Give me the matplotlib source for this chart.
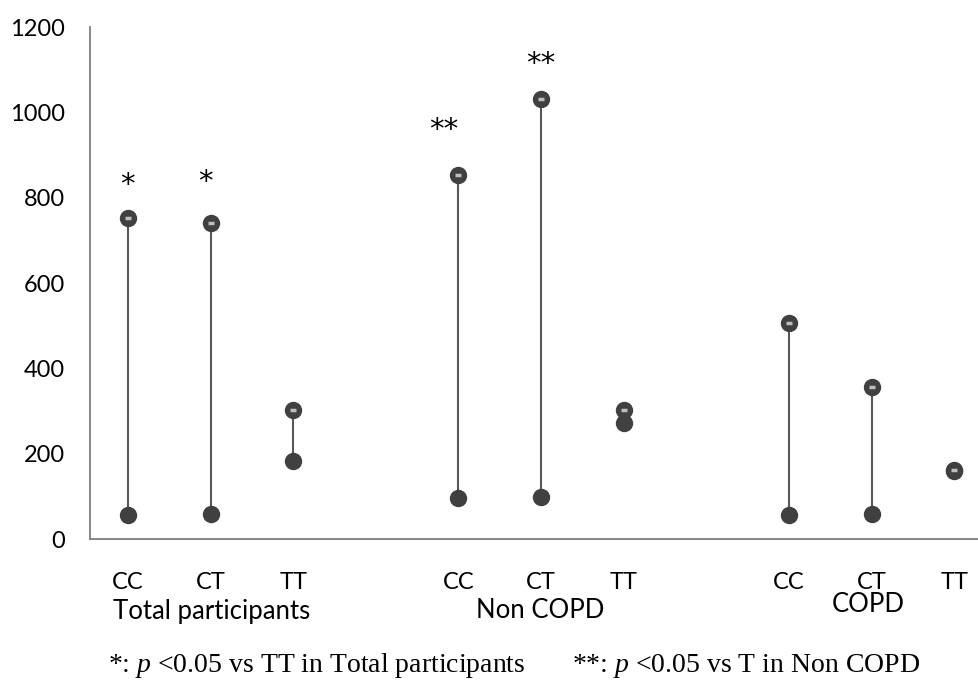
import matplotlib
matplotlib.use("Agg")
import matplotlib.pyplot as plt

plt.rcParams["mathtext.fontset"] = "custom"
plt.rcParams["mathtext.it"] = "Liberation Serif:italic"
plt.rcParams["mathtext.rm"] = "Liberation Serif"

genotypes = ["CC", "CT", "TT", "CC", "CT", "TT", "CC", "CT", "TT"]
groups = ["Total participants", "Non COPD", "COPD"]
x_pos = [0, 1, 2, 4, 5, 6, 8, 9, 10]
upper = [752, 741, 302, 853, 1031, 302, 506, 356, 162]
lower = [56, 59, 183, 96, 98, 272, 56, 59, 160]
stars = ["*", "*", "", "**", "**", "", "", "", ""]
# star offset from upper marker, in pixels (dx, dy)
star_offsets = [(-1, 33), (-5, 41), (0, 0), (-15, 45), (0, 35), (0, 0), (0, 0), (0, 0), (0, 0)]

LINE = "#595959"
DOT = "#404040"
TEXT = "#000000"

fig = plt.figure(figsize=(9.79, 6.86), dpi=100)
ax = fig.add_axes([90 / 979, 1 - 539 / 686, 1 - 90 / 979, 512 / 686])

for x, hi, lo in zip(x_pos, upper, lower):
    ax.plot([x, x], [lo, hi], color=LINE, lw=1.5, zorder=1)
ax.plot(x_pos, lower, "o", color=DOT, ms=11.5, mec=DOT, zorder=2)
ax.plot(x_pos, upper, "o", color=DOT, ms=11.5, mec=DOT, zorder=3)
ax.plot(x_pos, upper, "_", color="#bdbdbd", ms=4.5, mew=2.5, zorder=4)

for x, hi, s, (dx, dy) in zip(x_pos, upper, stars, star_offsets):
    if s:
        ax.annotate(s, (x, hi), xytext=(dx * 0.72, dy * 0.72), textcoords="offset points",
                    ha="center", va="center", fontsize=21, family="DejaVu Sans", color=TEXT)

ax.set_xlim(-0.46, 10.3)
ax.set_ylim(0, 1200)
ax.set_yticks(range(0, 1201, 200))
ax.set_xticks(x_pos)
ax.set_xticklabels(genotypes)
ax.tick_params(length=0, labelsize=17, colors=TEXT)
ax.tick_params(axis="y", pad=18)
ax.tick_params(axis="x", pad=24)
for lab in ax.get_xticklabels() + ax.get_yticklabels():
    lab.set_family("Lato")

for side in ["top", "right"]:
    ax.spines[side].set_visible(False)
for side in ["left", "bottom"]:
    ax.spines[side].set_color("#7f7f7f")
    ax.spines[side].set_linewidth(1.3)

group_x = [212 / 979, 540 / 979, 868 / 979]
group_y = [611 / 686, 611 / 686, 605 / 686]
for name, gx, gy in zip(groups, group_x, group_y):
    fig.text(gx, 1 - gy, name, ha="center", va="center", fontsize=18.5, family="Lato", color=TEXT)

fig.text(108 / 979, 1 - 666 / 686, "*: $\\mathit{p}$ <0.05 vs TT in Total participants",
         ha="left", va="center", fontsize=20, family="Liberation Serif", color=TEXT)
fig.text(572 / 979, 1 - 666 / 686, "**: $\\mathit{p}$ <0.05 vs T in Non COPD",
         ha="left", va="center", fontsize=20, family="Liberation Serif", color=TEXT)

fig.savefig("out.png", dpi=100)
